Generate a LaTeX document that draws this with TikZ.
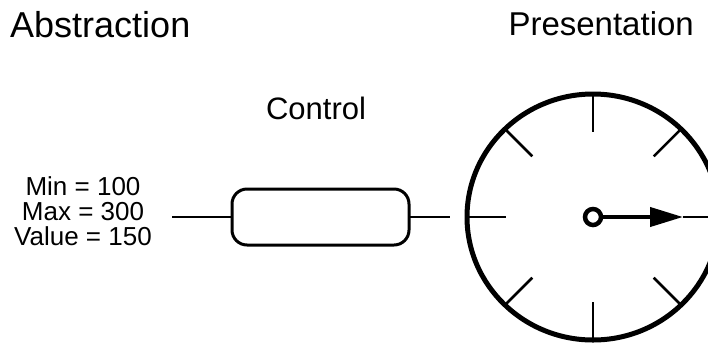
\documentclass[tikz,border=0pt]{standalone}
\usepackage{fontspec}
\setmainfont{Liberation Sans}
\usetikzlibrary{arrows.meta,shapes.geometric,calc}

\tikzset{
  heading/.style={font=\fontsize{36}{40}\selectfont, inner sep=0pt, anchor=base west},
  sublabel/.style={font=\fontsize{31}{34}\selectfont, inner sep=0pt, anchor=base},
  params/.style={font=\fontsize{26}{25}\selectfont, inner sep=0pt, align=center},
  wire/.style={line width=2pt},
  ctrlbox/.style={draw, line width=3pt, rounded corners=15pt, minimum width=177pt,
    minimum height=56pt, inner sep=0pt, outer sep=0pt},
  dialface/.style={draw, ellipse, line width=5pt, minimum width=252pt,
    minimum height=246pt, inner sep=0pt, outer sep=0pt},
  tick/.style={line width=2.5pt},
  hubring/.style={draw, circle, line width=4.5pt, minimum size=16pt, inner sep=0pt, fill=white},
  needle/.style={line width=4pt, -{Triangle[length=33pt,width=19pt]}}
}

\begin{document}
\begin{tikzpicture}[x=1pt, y=-1pt]
  \useasboundingbox (0,0) rectangle (708,346);

  % headings
  \node[heading] (abs) at (10,37) {Abstraction};
  \node[heading, anchor=base east, font=\fontsize{33}{38}\selectfont] (pres) at (694,35) {Presentation};
  \node[sublabel] (ctl) at (316,119) {Control};

  % abstract parameters
  \node[params] (vals) at (83,211) {Min = 100\\Max = 300\\Value = 150};

  % control widget
  \node[ctrlbox] (box) at (320.5,217) {};
  \coordinate (inA) at (172,217);
  \coordinate (outA) at (450,217);
  \draw[wire] (inA) -- (box.west);
  \draw[wire] (box.east) -- (outA);

  % dial presentation
  \node[dialface] (dial) at (593,217) {};
  \foreach \a in {45,90,135,180,225,270,315}
    \draw[tick] (dial.\a) -- ($(dial.center)!0.69!(dial.\a)$);

  \coordinate (tip) at (683,217);
  \coordinate (outB) at (708,217);
  \draw[wire] (tip) -- (outB);
  \node[hubring] (hub) at (593,217) {};
  \draw[needle] (hub.east) -- (tip);
\end{tikzpicture}
\end{document}
